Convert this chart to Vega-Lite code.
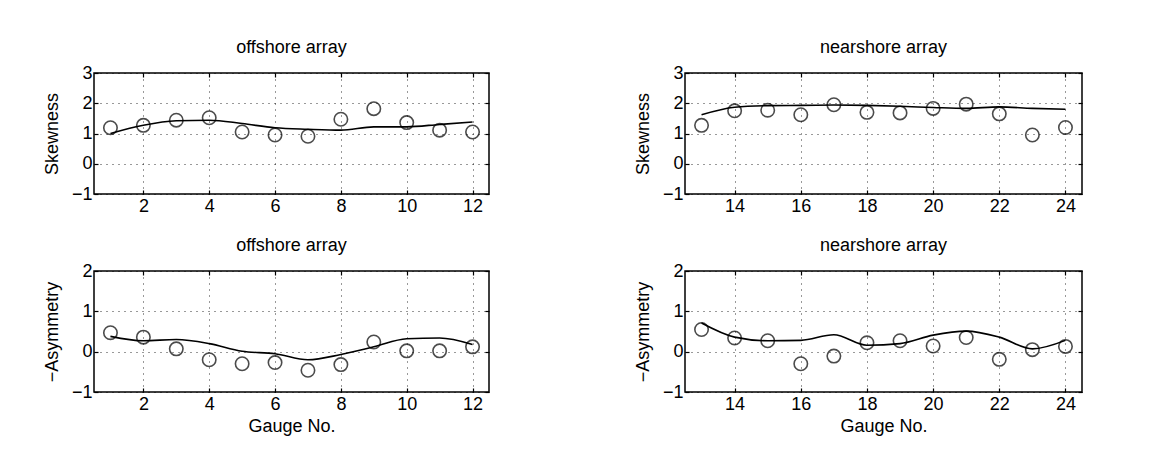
{
  "$schema": "https://vega.github.io/schema/vega-lite/v6.json",
  "background": "white",
  "padding": {"left": 42, "top": 38, "right": 5, "bottom": 5},
  "datasets": {
    "gauges": [
      {"gauge": 1, "array": "offshore", "skew": 1.19, "skewFit": 1.0, "asym": 0.47, "asymFit": 0.38},
      {"gauge": 2, "array": "offshore", "skew": 1.27, "skewFit": 1.27, "asym": 0.36, "asymFit": 0.27},
      {"gauge": 3, "array": "offshore", "skew": 1.44, "skewFit": 1.42, "asym": 0.07, "asymFit": 0.3},
      {"gauge": 4, "array": "offshore", "skew": 1.52, "skewFit": 1.44, "asym": -0.2, "asymFit": 0.2},
      {"gauge": 5, "array": "offshore", "skew": 1.05, "skewFit": 1.33, "asym": -0.3, "asymFit": 0.01},
      {"gauge": 6, "array": "offshore", "skew": 0.95, "skewFit": 1.19, "asym": -0.27, "asymFit": -0.05},
      {"gauge": 7, "array": "offshore", "skew": 0.91, "skewFit": 1.14, "asym": -0.46, "asymFit": -0.2},
      {"gauge": 8, "array": "offshore", "skew": 1.47, "skewFit": 1.11, "asym": -0.32, "asymFit": -0.07},
      {"gauge": 9, "array": "offshore", "skew": 1.82, "skewFit": 1.22, "asym": 0.24, "asymFit": 0.12},
      {"gauge": 10, "array": "offshore", "skew": 1.36, "skewFit": 1.22, "asym": 0.02, "asymFit": 0.32},
      {"gauge": 11, "array": "offshore", "skew": 1.11, "skewFit": 1.3, "asym": 0.02, "asymFit": 0.34},
      {"gauge": 12, "array": "offshore", "skew": 1.05, "skewFit": 1.38, "asym": 0.12, "asymFit": 0.18},
      {"gauge": 13, "array": "nearshore", "skew": 1.27, "skewFit": 1.62, "asym": 0.55, "asymFit": 0.71},
      {"gauge": 14, "array": "nearshore", "skew": 1.75, "skewFit": 1.87, "asym": 0.34, "asymFit": 0.36},
      {"gauge": 15, "array": "nearshore", "skew": 1.77, "skewFit": 1.92, "asym": 0.27, "asymFit": 0.27},
      {"gauge": 16, "array": "nearshore", "skew": 1.62, "skewFit": 1.93, "asym": -0.3, "asymFit": 0.28},
      {"gauge": 17, "array": "nearshore", "skew": 1.95, "skewFit": 1.94, "asym": -0.11, "asymFit": 0.42},
      {"gauge": 18, "array": "nearshore", "skew": 1.7, "skewFit": 1.93, "asym": 0.22, "asymFit": 0.16},
      {"gauge": 19, "array": "nearshore", "skew": 1.68, "skewFit": 1.9, "asym": 0.27, "asymFit": 0.2},
      {"gauge": 20, "array": "nearshore", "skew": 1.83, "skewFit": 1.86, "asym": 0.14, "asymFit": 0.41},
      {"gauge": 21, "array": "nearshore", "skew": 1.97, "skewFit": 1.83, "asym": 0.35, "asymFit": 0.51},
      {"gauge": 22, "array": "nearshore", "skew": 1.65, "skewFit": 1.88, "asym": -0.19, "asymFit": 0.36},
      {"gauge": 23, "array": "nearshore", "skew": 0.95, "skewFit": 1.83, "asym": 0.05, "asymFit": 0.07},
      {"gauge": 24, "array": "nearshore", "skew": 1.2, "skewFit": 1.8, "asym": 0.13, "asymFit": 0.28}
    ]
  },
  "config": {
    "font": "Liberation Sans",
    "view": {"stroke": "black", "strokeWidth": 1.5},
    "title": {"fontSize": 18, "fontWeight": "normal", "color": "black", "offset": 7, "font": "Liberation Sans"},
    "axis": {
      "domain": false,
      "grid": true,
      "gridColor": "black",
      "gridDash": [1, 5],
      "gridOpacity": 0.8,
      "gridWidth": 1,
      "ticks": true,
      "tickColor": "black",
      "tickSize": -4,
      "tickWidth": 1.2,
      "labelFontSize": 18,
      "labelColor": "black",
      "labelOverlap": false,
      "labelFont": "Liberation Sans",
      "titleFontSize": 18,
      "titleFontWeight": "normal",
      "titleColor": "black",
      "titleFont": "Liberation Sans"
    },
    "concat": {"spacing": 142}
  },
  "spacing": 20,
  "vconcat": [
    {
      "hconcat": [
        {
          "title": "offshore array",
          "width": 395, "height": 121,
          "data": {"name": "gauges"},
          "transform": [{"filter": "datum.array == 'offshore'"}],
          "resolve": {"axis": {"x": "independent", "y": "independent"}},
          "layer": [
            {"mark": {"type": "line", "color": "black", "strokeWidth": 1.6, "interpolate": "monotone"},
             "encoding": {
               "x": {"field": "gauge", "type": "quantitative", "scale": {"domain": [0.5, 12.5], "nice": false, "zero": false}, "axis": {"values": [2, 4, 6, 8, 10, 12], "title": null, "labelPadding": 7, "labelOverlap": false}},
               "y": {"field": "skewFit", "type": "quantitative", "scale": {"domain": [-1, 3], "nice": false}, "axis": {"values": [-1, 0, 1, 2, 3], "title": "Skewness", "titlePadding": 10, "labelPadding": 6, "labelOverlap": false, "labelFlush": false}}}},
            {"mark": {"type": "point", "shape": "circle", "filled": false, "color": "black", "size": 180, "strokeWidth": 1.6},
             "encoding": {
               "x": {"field": "gauge", "type": "quantitative", "axis": {"orient": "top", "values": [2, 4, 6, 8, 10, 12], "title": null, "labels": false, "grid": false}},
               "y": {"field": "skew", "type": "quantitative", "axis": {"orient": "right", "values": [-1, 0, 1, 2, 3], "title": null, "labels": false, "grid": false}}}}
          ]
        },
        {
          "title": "nearshore array",
          "width": 397, "height": 121,
          "data": {"name": "gauges"},
          "transform": [{"filter": "datum.array == 'nearshore'"}],
          "resolve": {"axis": {"x": "independent", "y": "independent"}},
          "layer": [
            {"mark": {"type": "line", "color": "black", "strokeWidth": 1.6, "interpolate": "monotone"},
             "encoding": {
               "x": {"field": "gauge", "type": "quantitative", "scale": {"domain": [12.5, 24.5], "nice": false, "zero": false}, "axis": {"values": [14, 16, 18, 20, 22, 24], "title": null, "labelPadding": 7, "labelOverlap": false}},
               "y": {"field": "skewFit", "type": "quantitative", "scale": {"domain": [-1, 3], "nice": false}, "axis": {"values": [-1, 0, 1, 2, 3], "title": "Skewness", "titlePadding": 10, "labelPadding": 6, "labelOverlap": false, "labelFlush": false}}}},
            {"mark": {"type": "point", "shape": "circle", "filled": false, "color": "black", "size": 180, "strokeWidth": 1.6},
             "encoding": {
               "x": {"field": "gauge", "type": "quantitative", "axis": {"orient": "top", "values": [14, 16, 18, 20, 22, 24], "title": null, "labels": false, "grid": false}},
               "y": {"field": "skew", "type": "quantitative", "axis": {"orient": "right", "values": [-1, 0, 1, 2, 3], "title": null, "labels": false, "grid": false}}}}
          ]
        }
      ]
    },
    {
      "hconcat": [
        {
          "title": "offshore array",
          "width": 395, "height": 121,
          "data": {"name": "gauges"},
          "transform": [{"filter": "datum.array == 'offshore'"}],
          "resolve": {"axis": {"x": "independent", "y": "independent"}},
          "layer": [
            {"mark": {"type": "line", "color": "black", "strokeWidth": 1.6, "interpolate": "monotone"},
             "encoding": {
               "x": {"field": "gauge", "type": "quantitative", "scale": {"domain": [0.5, 12.5], "nice": false, "zero": false}, "axis": {"values": [2, 4, 6, 8, 10, 12], "title": "Gauge No.", "labelPadding": 7, "titlePadding": 4, "labelOverlap": false}},
               "y": {"field": "asymFit", "type": "quantitative", "scale": {"domain": [-1, 2], "nice": false}, "axis": {"values": [-1, 0, 1, 2], "title": "\u2212Asymmetry", "titlePadding": 10, "labelPadding": 6, "labelOverlap": false, "labelFlush": false}}}},
            {"mark": {"type": "point", "shape": "circle", "filled": false, "color": "black", "size": 180, "strokeWidth": 1.6},
             "encoding": {
               "x": {"field": "gauge", "type": "quantitative", "axis": {"orient": "top", "values": [2, 4, 6, 8, 10, 12], "title": null, "labels": false, "grid": false}},
               "y": {"field": "asym", "type": "quantitative", "axis": {"orient": "right", "values": [-1, 0, 1, 2], "title": null, "labels": false, "grid": false}}}}
          ]
        },
        {
          "title": "nearshore array",
          "width": 397, "height": 121,
          "data": {"name": "gauges"},
          "transform": [{"filter": "datum.array == 'nearshore'"}],
          "resolve": {"axis": {"x": "independent", "y": "independent"}},
          "layer": [
            {"mark": {"type": "line", "color": "black", "strokeWidth": 1.6, "interpolate": "monotone"},
             "encoding": {
               "x": {"field": "gauge", "type": "quantitative", "scale": {"domain": [12.5, 24.5], "nice": false, "zero": false}, "axis": {"values": [14, 16, 18, 20, 22, 24], "title": "Gauge No.", "labelPadding": 7, "titlePadding": 4, "labelOverlap": false}},
               "y": {"field": "asymFit", "type": "quantitative", "scale": {"domain": [-1, 2], "nice": false}, "axis": {"values": [-1, 0, 1, 2], "title": "\u2212Asymmetry", "titlePadding": 10, "labelPadding": 6, "labelOverlap": false, "labelFlush": false}}}},
            {"mark": {"type": "point", "shape": "circle", "filled": false, "color": "black", "size": 180, "strokeWidth": 1.6},
             "encoding": {
               "x": {"field": "gauge", "type": "quantitative", "axis": {"orient": "top", "values": [14, 16, 18, 20, 22, 24], "title": null, "labels": false, "grid": false}},
               "y": {"field": "asym", "type": "quantitative", "axis": {"orient": "right", "values": [-1, 0, 1, 2], "title": null, "labels": false, "grid": false}}}}
          ]
        }
      ]
    }
  ]
}
